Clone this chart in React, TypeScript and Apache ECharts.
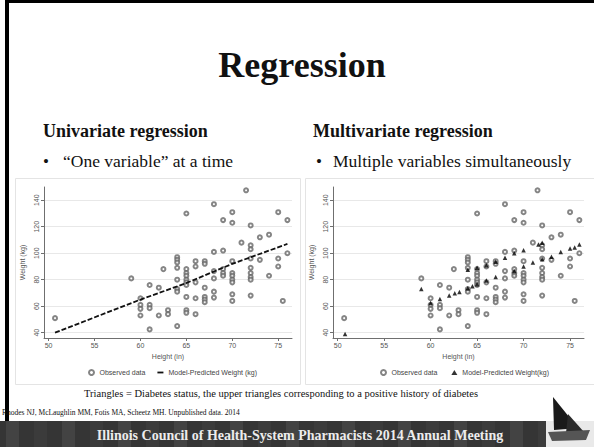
import React, { useEffect, useRef } from 'react';
import * as echarts from 'echarts';

// ---- Slide texts ----
const slideTitle = 'Regression';
const leftHeading = 'Univariate regression';
const rightHeading = 'Multivariate regression';
const leftBullet = '\u201COne variable\u201D at a time';
const rightBullet = 'Multiple variables simultaneously';
const caption = 'Triangles = Diabetes status, the upper triangles corresponding to a positive history of diabetes';
const citation = 'Rhodes NJ, McLaughlin MM, Fotis MA, Scheetz MH. Unpublished data. 2014';
const footerText = 'Illinois Council of Health-System Pharmacists 2014 Annual Meeting';

// ---- Axis ticks ----
const xTicks = [50, 55, 60, 65, 70, 75];
const yTicks = [40, 60, 80, 100, 120, 140];
const xTitle = 'Height (in)';
const yTitle = 'Weight (kg)';

// ---- Observed data (height in, weight kg) ----
const obsHeight = [
  50.7, 59,
  60, 60, 60, 60,
  61, 61, 61, 61,
  62, 62, 62.5, 63, 63,
  64, 64, 64, 64, 64, 64, 64, 64,
  65, 65, 65, 65, 65, 65, 65, 65, 65, 65,
  66, 66, 66, 66, 66,
  67, 67, 67, 67, 67, 67,
  68, 68, 68, 68, 68, 68,
  69, 69, 69, 69, 69,
  70, 70, 70, 70, 70, 70, 70, 70, 70,
  71, 71.5,
  72, 72, 72, 72, 72, 72, 72, 72, 72,
  73, 73, 74, 74,
  75, 75, 75, 75.5, 76, 76,
];
const obsWeight = [
  51, 81,
  66, 61, 58, 53,
  76, 61, 58.5, 42.5,
  74, 53, 88, 57, 54,
  97, 95, 93, 89, 80, 73, 71, 45,
  130, 88, 85, 83, 80, 78, 76, 67, 57, 55,
  94, 90, 78, 66, 54,
  94, 92, 74, 67, 65, 63,
  137, 101, 86.5, 81, 71, 66.5,
  125, 102, 88, 85, 83,
  131, 123, 94, 85, 83, 80, 78, 69, 64,
  108, 147.5,
  121, 106, 103, 96, 89, 85, 82, 80, 68,
  112, 95, 114, 83,
  131, 96, 90, 64, 125, 100,
];

// ---- Univariate model prediction (dashed line) ----
const uniHeight = [50.7, 60, 65, 70, 76];
const uniWeight = [40, 65, 77.5, 92, 107];

// ---- Multivariate model predictions (triangles) ----
const multiHeight = [
  50.8, 59, 60, 61, 62, 62.6, 63.1, 64, 64, 64.5, 65, 65, 66, 66, 67, 67,
  68, 69, 69, 70, 70, 71, 71.6, 72, 72, 73, 74, 75, 75.5, 76,
];
const multiWeight = [
  39, 73, 62.5, 65.5, 68, 69.7, 70.8, 73.5, 87.5, 75, 76.5, 89, 79.5, 91, 82, 93.5,
  96.5, 86.5, 100, 90, 102.3, 93, 106.6, 95.5, 108, 97.3, 101, 103.6, 104.4, 106.6,
];

const serif = '"Liberation Serif", "DejaVu Serif", serif';
const sans = '"Liberation Sans", Arial, sans-serif';
const axisGray = '#6f6f6f';
const labelGray = '#555';

function xAxis(gridIndex: number) {
  return {
    type: 'value',
    gridIndex,
    min: 49.5,
    max: 76.5,
    name: xTitle,
    nameLocation: 'middle',
    nameGap: 15,
    nameTextStyle: { fontSize: 7, color: labelGray, fontFamily: sans },
    axisLine: { show: true, lineStyle: { color: axisGray, width: 1 } },
    axisTick: { show: true, length: 3, customValues: xTicks, lineStyle: { color: axisGray } },
    axisLabel: { customValues: xTicks, fontSize: 7, color: labelGray, margin: 4, fontFamily: sans },
    splitLine: { show: false },
  };
}

function yAxis(gridIndex: number) {
  return {
    type: 'value',
    gridIndex,
    min: 36,
    max: 150,
    name: yTitle,
    nameLocation: 'middle',
    nameGap: 18,
    nameTextStyle: { fontSize: 7, color: labelGray, fontFamily: sans },
    axisLine: { show: true, lineStyle: { color: axisGray, width: 1 } },
    axisTick: { show: true, length: 3, customValues: yTicks, lineStyle: { color: axisGray } },
    axisLabel: { customValues: yTicks, fontSize: 7, color: labelGray, margin: 4, rotate: 90, fontFamily: sans },
    splitLine: { show: true, lineStyle: { color: '#e8e8e8', width: 1 } },
  };
}

export default function App() {
  const ref = useRef<HTMLDivElement>(null);

  useEffect(() => {
    if (!ref.current) return;
    const chart = echarts.init(ref.current, null, { renderer: 'svg' });

    const observed = obsHeight.map((h, i) => [h, obsWeight[i]]);
    const uniLine = uniHeight.map((h, i) => [h, uniWeight[i]]);
    const multi = multiHeight.map((h, i) => [h, multiWeight[i]]);

    const stripes: any[] = [];
    for (let i = 0; i < 20; i++) {
      stripes.push({
        type: 'rect',
        shape: { x: i * 28 + 6, y: 421, width: 13, height: 26 },
        style: { fill: i % 2 === 0 ? '#434343' : '#3b3b3b' },
        silent: true,
      });
    }

    const txt = (text: string, x: number, y: number, size: number, weight: string, align: string, fill = '#111', family = serif) => ({
      type: 'text',
      x,
      y,
      style: {
        text,
        fontSize: size,
        fontWeight: weight,
        fontFamily: family,
        fill,
        textAlign: align,
        align,
        textVerticalAlign: 'middle',
        verticalAlign: 'middle',
      },
    });

    const option: any = {
      animation: false,
      backgroundColor: '#ffffff',
      grid: [
        { left: 44, top: 187, width: 248, height: 151 },
        { left: 333, top: 187, width: 251, height: 151 },
      ],
      xAxis: [xAxis(0), xAxis(1)],
      yAxis: [yAxis(0), yAxis(1)],
      legend: [
        {
          left: 83,
          top: 364,
          itemGap: 12,
          itemWidth: 6,
          itemHeight: 5,
          textStyle: { fontSize: 7, color: '#444', fontFamily: sans },
          data: [
            { name: 'Observed data' },
            { name: 'Model-Predicted Weight (kg)', icon: 'path://M0,0H10V3H0Z' },
          ],
        },
        {
          left: 375,
          top: 364,
          itemGap: 12,
          itemWidth: 6,
          itemHeight: 5,
          textStyle: { fontSize: 7, color: '#444', fontFamily: sans },
          data: [
            { name: 'Observed data ' },
            { name: 'Model-Predicted Weight(kg)' },
          ],
        },
      ],
      series: [
        {
          type: 'scatter',
          name: 'Observed data',
          xAxisIndex: 0,
          yAxisIndex: 0,
          symbol: 'emptyCircle',
          symbolSize: 4,
          itemStyle: { color: '#666', borderWidth: 0.7 },
          data: observed,
        },
        {
          type: 'line',
          name: 'Model-Predicted Weight (kg)',
          xAxisIndex: 0,
          yAxisIndex: 0,
          showSymbol: false,
          symbol: 'none',
          lineStyle: { color: '#111', width: 1.8, type: [5, 2] },
          itemStyle: { color: '#111' },
          data: uniLine,
        },
        {
          type: 'scatter',
          name: 'Observed data ',
          xAxisIndex: 1,
          yAxisIndex: 1,
          symbol: 'emptyCircle',
          symbolSize: 4,
          itemStyle: { color: '#666', borderWidth: 0.7 },
          data: observed,
        },
        {
          type: 'scatter',
          name: 'Model-Predicted Weight(kg)',
          xAxisIndex: 1,
          yAxisIndex: 1,
          symbol: 'triangle',
          symbolSize: 4.5,
          itemStyle: { color: '#000' },
          data: multi,
        },
      ],
      graphic: [
        // slide frame
        { type: 'rect', shape: { x: 5, y: 0, width: 4, height: 421 }, style: { fill: '#000' }, silent: true },
        { type: 'rect', shape: { x: 5, y: 0, width: 589, height: 3 }, style: { fill: '#000' }, silent: true },
        // panels
        { type: 'rect', shape: { x: 15.5, y: 178.5, width: 285, height: 206 }, style: { fill: 'transparent', stroke: '#e4e4e4', lineWidth: 1 }, silent: true },
        { type: 'rect', shape: { x: 305.5, y: 178.5, width: 290, height: 206 }, style: { fill: 'transparent', stroke: '#e4e4e4', lineWidth: 1 }, silent: true },
        // texts
        txt(slideTitle, 302, 65, 36, 'bold', 'center'),
        txt(leftHeading, 43, 131, 18, 'bold', 'left'),
        txt(rightHeading, 313, 131, 18, 'bold', 'left'),
        txt('\u2022', 43, 161, 17, 'normal', 'left'),
        txt(leftBullet, 63, 161, 17.5, 'normal', 'left'),
        txt('\u2022', 316, 161, 17, 'normal', 'left'),
        txt(rightBullet, 333, 161, 17.5, 'normal', 'left'),
        txt(caption, 281, 393, 10.5, 'normal', 'center'),
        txt(citation, 2, 412, 7.5, 'normal', 'left'),
        // footer
        { type: 'rect', shape: { x: 0, y: 421, width: 546, height: 26 }, style: { fill: '#353535' }, silent: true },
        ...stripes,
        { type: 'rect', shape: { x: 546, y: 421, width: 48, height: 26 }, style: { fill: '#e9e9e9' }, silent: true },
        txt(footerText, 300, 435, 14, 'bold', 'center', '#ececec'),
        // logo (sail)
        { type: 'polygon', shape: { points: [[553, 397], [578, 428], [554, 430]] }, style: { fill: '#1a1a1a' }, silent: true },
        { type: 'polygon', shape: { points: [[568, 414], [584, 432], [566, 433]] }, style: { fill: '#2a2a2a' }, silent: true },
        { type: 'polygon', shape: { points: [[548, 432], [590, 430], [586, 440], [552, 441]] }, style: { fill: '#555' }, silent: true },
      ],
    };

    chart.setOption(option);
    return () => chart.dispose();
  }, []);

  return (
    <div
      ref={ref}
      style={{ position: 'fixed', left: 0, top: 0, width: 594, height: 447, background: '#fff' }}
    />
  );
}
